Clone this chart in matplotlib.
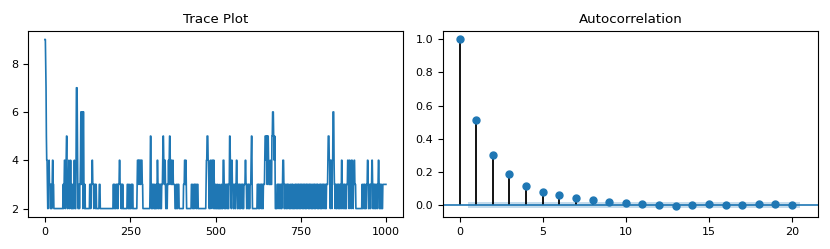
import numpy as np
import matplotlib.pyplot as plt

# trace values as (value, run length) pairs
trace_runs = [
    (9, 2), (8, 1), (7, 1), (5, 1),
    (4, 2), (3, 1), (2, 2), (3, 2), (4, 1), (3, 3), (2, 1), (3, 2), (2, 2), (3, 1), (4, 2), (3, 2), (2, 1),
    (2, 26),
    (3, 2), (2, 1), (3, 1), (4, 2), (3, 1), (2, 1), (3, 1), (4, 1), (5, 2), (3, 1), (2, 2), (3, 2), (4, 1),
    (3, 1), (2, 1), (3, 2), (4, 1), (3, 1), (2, 2), (3, 1), (2, 2), (3, 2), (2, 1), (3, 1), (4, 1), (3, 1), (2, 3),
    (4, 1), (7, 3), (5, 1), (3, 1),
    (2, 2), (3, 2), (2, 1), (3, 2), (4, 1),
    (6, 3), (3, 1), (6, 2), (2, 1), (6, 2),
    (3, 2), (2, 1), (3, 1), (2, 13),
    (3, 3), (2, 1), (3, 3), (4, 2), (3, 3), (2, 1), (3, 4), (2, 1), (3, 2),
    (2, 8), (3, 3), (2, 38),
    (3, 2), (2, 1), (3, 2), (2, 3), (3, 3), (2, 1), (3, 2), (2, 1), (3, 3), (4, 2), (3, 3), (2, 1), (3, 2),
    (2, 1), (3, 2), (2, 2),
    (2, 10),
    (3, 3), (2, 2), (3, 2), (2, 4), (3, 3), (2, 1), (3, 2), (2, 2),
    (2, 10),
    (3, 1), (4, 4), (3, 1), (4, 3), (3, 2), (4, 4), (3, 2),
    (2, 21),
    (3, 1), (5, 2), (3, 1),
    (2, 2), (3, 2), (2, 1), (3, 3), (2, 2), (3, 1), (2, 3), (3, 2), (2, 1),
    (4, 2), (3, 1),
    (2, 2), (3, 3), (2, 1), (3, 2), (2, 2), (3, 3),
    (4, 1), (5, 2), (4, 2), (3, 1), (4, 2), (3, 1),
    (2, 2), (3, 2), (2, 1), (3, 3), (4, 1), (3, 1),
    (4, 1), (5, 2), (4, 2), (3, 2), (4, 1), (3, 3), (4, 1), (3, 1),
    (3, 4), (2, 4), (3, 2), (2, 2), (3, 4), (2, 3),
    (2, 10),
    (3, 3), (4, 2), (3, 2), (4, 1), (3, 1),
    (2, 14),
    (3, 4), (2, 3), (3, 3), (2, 1), (3, 4), (2, 2), (3, 3),
    (2, 23),
    (3, 1), (4, 2), (5, 3), (4, 2), (3, 1),
    (2, 2), (3, 2), (4, 1), (2, 1), (3, 2), (4, 3), (3, 1), (2, 1), (4, 2), (3, 1), (2, 2), (3, 2),
    (2, 3), (3, 2), (2, 4), (3, 1), (2, 5), (3, 2), (2, 4),
    (4, 3), (3, 1), (2, 1),
    (3, 2), (2, 2), (3, 3), (2, 1), (3, 2), (2, 2), (3, 2),
    (5, 2), (4, 1),
    (3, 2), (2, 1), (4, 2), (3, 3), (2, 2), (3, 3), (2, 2), (3, 2),
    (4, 2), (3, 1),
    (2, 2), (3, 3), (2, 1), (3, 2), (2, 2), (3, 4), (2, 1), (3, 2), (2, 2), (3, 4),
    (4, 2), (3, 2),
    (2, 2), (3, 3), (2, 1), (3, 2), (2, 2), (3, 3),
    (4, 1), (5, 2), (3, 1),
    (2, 14),
    (3, 3), (2, 1), (3, 2), (2, 2), (3, 4), (2, 1), (3, 3), (2, 2), (3, 4),
    (4, 1), (5, 3), (4, 1), (5, 2), (3, 1), (5, 3), (4, 1),
    (3, 4), (4, 1), (3, 4),
    (5, 2), (6, 3), (5, 2), (4, 1), (5, 1),
    (4, 1), (2, 5),
    (3, 3), (2, 1), (3, 4), (2, 2), (3, 3), (2, 2),
    (3, 2), (4, 3), (3, 1), (2, 2),
    (3, 3), (2, 2), (3, 2), (2, 1), (3, 4), (2, 3), (3, 2), (2, 2), (3, 3), (2, 1), (3, 2), (2, 4), (3, 3),
    (2, 1), (3, 2), (2, 2),
    (3, 2), (2, 1), (3, 3), (2, 2), (3, 2), (2, 1), (3, 4), (2, 2), (3, 2), (2, 1), (3, 3), (2, 2), (3, 2),
    (2, 1), (3, 4), (2, 2), (3, 2), (2, 1), (3, 3), (2, 2), (3, 2),
    (2, 2), (3, 3), (2, 1), (3, 2), (2, 2), (3, 4), (2, 1), (3, 2), (2, 3), (3, 3), (2, 1), (3, 2), (2, 2),
    (3, 3), (2, 1), (3, 4), (2, 2), (3, 2), (2, 1), (3, 3),
    (3, 1), (4, 1), (5, 3), (4, 2), (3, 1), (2, 1), (4, 2), (3, 2), (2, 1), (4, 2),
    (6, 3), (4, 1),
    (3, 2), (2, 1), (3, 3), (2, 2), (3, 3), (2, 1), (3, 2), (2, 2), (3, 3),
    (2, 2), (4, 2), (3, 2),
    (2, 2), (3, 3), (2, 1), (3, 2), (2, 3), (3, 3),
    (4, 2), (3, 2), (2, 1), (4, 2), (3, 3), (2, 1), (4, 3), (3, 2), (2, 1), (3, 2), (4, 2), (3, 3),
    (2, 18),
    (3, 2), (2, 2), (3, 3), (2, 1), (3, 2), (2, 3), (3, 3),
    (4, 2), (3, 1),
    (2, 3), (3, 3), (2, 1), (3, 3),
    (4, 2), (3, 1),
    (2, 2), (3, 3), (2, 1), (3, 2), (2, 2), (3, 3), (2, 1), (3, 2),
    (4, 2), (3, 1),
    (2, 2), (3, 2), (2, 1), (3, 2), (2, 3),
    (3, 10),
]

lags = list(range(21))
acf_vals = [1.0, 0.513, 0.304, 0.185, 0.115, 0.076, 0.058, 0.042, 0.028, 0.020, 0.014,
            0.004, 0.0, -0.004, 0.002, 0.006, 0.002, -0.002, 0.004, 0.008, 0.0]
conf_lags = [0.5, 20.5]
conf_width = 0.02

trace = np.repeat([v for v, n in trace_runs], [n for v, n in trace_runs])

plt.rcParams['font.size'] = 8

fig = plt.figure(figsize=(8.3, 2.49), dpi=100)
ax1 = fig.add_axes([0.0337, 0.1285, 0.4518, 0.747])
ax2 = fig.add_axes([0.5337, 0.1285, 0.4518, 0.747])

ax1.plot(np.arange(len(trace)), trace, color='C0', lw=1.2)
ax1.set_title('Trace Plot', fontsize=9.6)
ax1.set_xticks([0, 250, 500, 750, 1000])
ax1.set_yticks([2, 4, 6, 8])

ax2.vlines(lags, 0, acf_vals, color='k', lw=1.3)
ax2.plot(lags, acf_vals, 'o', color='C0', ms=5)
ax2.axhline(0, color='C0', lw=1.2)
ax2.fill_between(conf_lags, -conf_width, conf_width, color='C0', alpha=0.25, lw=0)
ax2.set_title('Autocorrelation', fontsize=9.6)
ax2.set_xlim(-1, 21.56)
ax2.set_ylim(-0.072, 1.05)
ax2.set_xticks([0, 5, 10, 15, 20])

fig.savefig('out.png', dpi=100)
